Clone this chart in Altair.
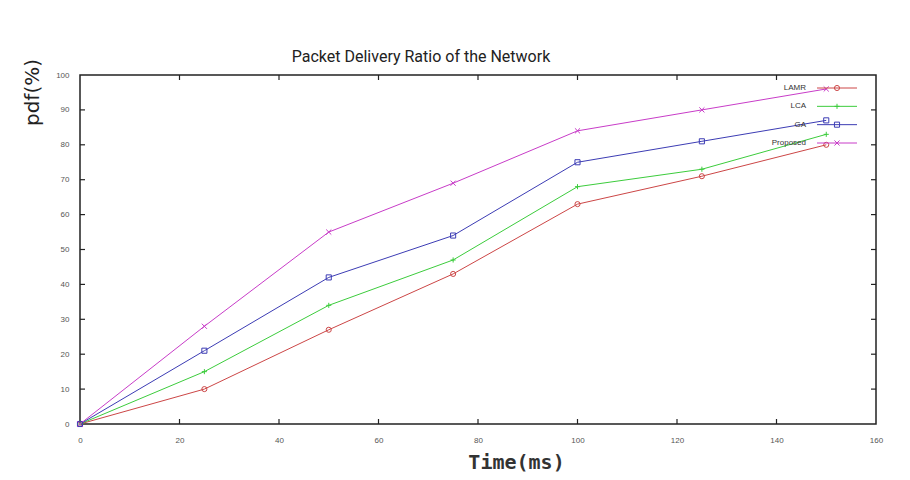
import altair as alt
import pandas as pd

# ---- data ----
time_ms = [0, 25, 50, 75, 100, 125, 150]
series = ["LAMR", "LCA", "GA", "Proposed"]
lamr = [0, 10, 27, 43, 63, 71, 80]
lca = [0, 15, 34, 47, 68, 73, 83]
ga = [0, 21, 42, 54, 75, 81, 87]
proposed = [0, 28, 55, 69, 84, 90, 96]
x_ticks = [0, 20, 40, 60, 80, 100, 120, 140, 160]
y_ticks = [0, 10, 20, 30, 40, 50, 60, 70, 80, 90, 100]

colors = ["#cc4646", "#3ccc3c", "#3c3cb4", "#c83cc8"]
PLUS = "M-1,0H1M0,-1V1"
XSHAPE = "M-1,-1L1,1M-1,1L1,-1"
shapes = ["circle", PLUS, "square", XSHAPE]

rows = []
for name, vals in zip(series, [lamr, lca, ga, proposed]):
    for t, v in zip(time_ms, vals):
        rows.append({"series": name, "time": t, "pdf": v})
df = pd.DataFrame(rows)
xt_df = pd.DataFrame({"time": x_ticks[1:-1]})
yt_df = pd.DataFrame({"pdf": y_ticks[1:-1]})
leg_df = pd.DataFrame({"series": series})

W, H = 796, 349
xs = alt.Scale(domain=[0, 160], nice=False, zero=False)
ys = alt.Scale(domain=[0, 100], nice=False)

color = alt.Color("series:N", scale=alt.Scale(domain=series, range=colors), legend=None)
shape = alt.Shape("series:N", scale=alt.Scale(domain=series, range=shapes), legend=None)

x_axis = alt.Axis(values=x_ticks, ticks=False, tickSize=0, domain=False, grid=False,
                  labelFlush=False, labelOverlap=False,
                  labelFontSize=8, labelColor="#555", labelPadding=12, labelFont="Liberation Sans",
                  title="Time(ms)", titleFont="DejaVu Sans Mono", titleFontSize=20,
                  titleFontWeight="bold", titleColor="#333", titleX=436, titleY=38,
                  titleBaseline="middle", titleAlign="center")
y_axis = alt.Axis(values=y_ticks, ticks=False, tickSize=0, domain=False, grid=False,
                  labelFlush=False, labelOverlap=False,
                  labelFontSize=8, labelColor="#555", labelPadding=11, labelFont="Liberation Sans",
                  title="pdf(%)", titleFont="DejaVu Sans", titleFontSize=20,
                  titleFontWeight="normal", titleColor="#222", titleAngle=270,
                  titleX=-48, titleY=17, titleAlign="center", titleBaseline="middle")

X = alt.X("time:Q", scale=xs, axis=x_axis)

base = alt.Chart(df)
lines = base.mark_line(strokeWidth=1).encode(
    x=X,
    y=alt.Y("pdf:Q", scale=ys, axis=y_axis),
    color=color,
)
points = base.mark_point(filled=False, size=26, strokeWidth=1, opacity=1).encode(
    x=X,
    y=alt.Y("pdf:Q", scale=ys, axis=None),
    color=color,
    shape=shape,
)

tick_col = "#222"
xt_bottom = alt.Chart(xt_df).mark_rule(color=tick_col, strokeWidth=1.2).encode(
    x=X, y=alt.value(H), y2=alt.value(H - 5))
xt_top = alt.Chart(xt_df).mark_rule(color=tick_col, strokeWidth=1.2).encode(
    x=X, y=alt.value(0), y2=alt.value(5))
yt_left = alt.Chart(yt_df).mark_rule(color=tick_col, strokeWidth=1.2).encode(
    y=alt.Y("pdf:Q", scale=ys, axis=None), x=alt.value(0), x2=alt.value(5))
yt_right = alt.Chart(yt_df).mark_rule(color=tick_col, strokeWidth=1.2).encode(
    y=alt.Y("pdf:Q", scale=ys, axis=None), x=alt.value(W), x2=alt.value(W - 5))

leg_y = alt.Y("series:N", scale=alt.Scale(domain=series, type="point", range=[13, 68], padding=0),
              axis=None)
leg_text = alt.Chart(leg_df).mark_text(align="right", baseline="middle", fontSize=8,
                                       font="Liberation Sans", color="#333").encode(
    x=alt.value(726), y=leg_y, text="series:N")
leg_rule = alt.Chart(leg_df).mark_rule(strokeWidth=1).encode(
    x=alt.value(737), x2=alt.value(777), y=leg_y, color=color)
leg_pt = alt.Chart(leg_df).mark_point(filled=False, size=26, strokeWidth=1, opacity=1).encode(
    x=alt.value(757), y=leg_y, color=color, shape=shape)

chart = alt.layer(
    lines, points, xt_bottom, xt_top, yt_left, yt_right, leg_rule, leg_pt, leg_text
).resolve_scale(y="independent").properties(
    width=W, height=H,
    title=alt.TitleParams("Packet Delivery Ratio of the Network",
                          font="Roboto", fontSize=16, fontWeight="normal", color="#222",
                          anchor="middle", frame="group", dx=-57, offset=11, dy=18),
    autosize=alt.AutoSizeParams(type="none"),
    padding={"left": 72, "top": 67, "right": 26, "bottom": 48},
    background="white",
).configure_view(stroke="#222", strokeWidth=1.5)

chart.save("out.html", embed_options={"renderer": "svg", "actions": False})
